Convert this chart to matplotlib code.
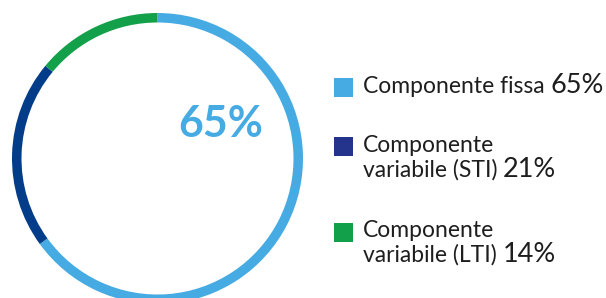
import matplotlib
matplotlib.use("Agg")
import matplotlib.pyplot as plt

# data
labels = ["Componente fissa", "Componente\nvariabile (STI)", "Componente\nvariabile (LTI)"]
shares = [65, 21, 14]
pct_labels = ["65%", "21%", "14%"]
ring_colors = ["#46abe2", "#033d89", "#13a04a"]
box_colors = ["#46abe2", "#24348c", "#13a04a"]

plt.rcParams['font.family'] = ['Lato', 'DejaVu Sans']

W, H = 606, 298
fig = plt.figure(figsize=(W / 100, H / 100), dpi=100)
ax = fig.add_axes([0, 0, 1, 1])

# y axis is flipped (pixel coords), so angles run the other way round
cx, cy, r = 157.5, 158.5, 145.5
ax.pie(shares, colors=ring_colors, startangle=-90, counterclock=True,
       center=(cx, cy), radius=r, wedgeprops=dict(width=9.5, linewidth=0))

ax.set_xlim(0, W)
ax.set_ylim(H, 0)
ax.set_aspect('equal')
ax.axis('off')

# big number inside the ring
ax.text(221, 124, pct_labels[0], color=ring_colors[0], fontsize=31,
        fontweight='bold', ha='center', va='center')

# legend
txt_col = "#1e1e1e"
box_y = [78, 137, 223]
line_base = [[93], [152, 177], [237, 262]]
for i in range(3):
    ax.add_patch(plt.Rectangle((334, box_y[i]), 19, 19, color=box_colors[i], lw=0))
    parts = labels[i].split("\n")
    t = None
    for j, part in enumerate(parts):
        t = ax.text(363, line_base[i][j], part, fontsize=16.5, color=txt_col,
                    ha='left', va='baseline')
    ax.annotate(pct_labels[i], xy=(1, line_base[i][-1]), xycoords=(t, 'data'),
                xytext=(4, 0), textcoords='offset points', fontsize=19.5,
                color=txt_col, ha='left', va='baseline')

fig.savefig("out.png", dpi=100)
